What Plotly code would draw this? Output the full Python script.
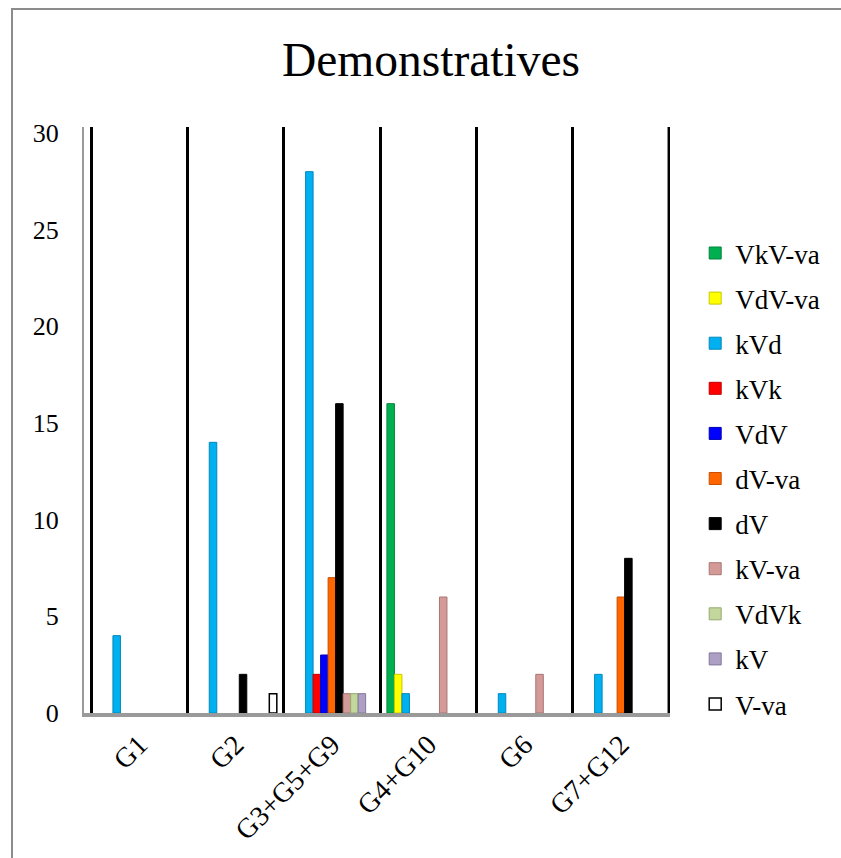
import plotly.graph_objects as go

# Categories (groups) along the x axis
categories = ["G1", "G2", "G3+G5+G9", "G4+G10", "G6", "G7+G12"]

# Counts per series (None = no bar)
vkv_va = [None, None, None, 16, None, None]
vdv_va = [None, None, None, 2, None, None]
kvd = [4, 14, 28, 1, 1, 2]
kvk = [None, None, 2, None, None, None]
vdv = [None, None, 3, None, None, None]
dv_va = [None, None, 7, None, None, 6]
dv = [None, 2, 16, None, None, 8]
kv_va = [None, None, 1, 6, 2, None]
vdvk = [None, None, 1, None, None, None]
kv = [None, None, 1, None, None, None]
v_va = [None, 1, None, None, None, None]

y_ticks = [0, 5, 10, 15, 20, 25, 30]

series = [
    ("VkV-va", vkv_va, "#00B050", "#00853C"),
    ("VdV-va", vdv_va, "#FFFF00", "#C8C800"),
    ("kVd", kvd, "#00B0F0", "#0088BC"),
    ("kVk", kvk, "#FF0000", "#C00000"),
    ("VdV", vdv, "#0000FF", "#0000B8"),
    ("dV-va", dv_va, "#FF6600", "#C84F00"),
    ("dV", dv, "#000000", "#000000"),
    ("kV-va", kv_va, "#D49A98", "#A87472"),
    ("VdVk", vdvk, "#C3D69B", "#97AA70"),
    ("kV", kv, "#ADA0C4", "#83779A"),
    ("V-va", v_va, "#FFFFFF", "#000000"),
]

SERIF = "Liberation Serif, Times New Roman, serif"

fig = go.Figure()
for name, vals, fill, edge in series:
    fig.add_trace(go.Bar(
        x=categories,
        y=vals,
        name=name,
        legendgroup=name,
        marker=dict(color=fill, line=dict(color=edge, width=1.5 if name == "V-va" else 1)),
    ))

fig.update_layout(
    barmode="group",
    bargap=0.143,
    bargroupgap=0,
    width=841,
    height=858,
    margin=dict(l=84, r=171, t=127, b=145),
    paper_bgcolor="white",
    plot_bgcolor="white",
    font=dict(family=SERIF, color="black"),
    title=dict(
        text="Demonstratives",
        font=dict(family=SERIF, size=47.5, color="black"),
        x=431 / 841, xanchor="center", xref="container",
        y=1 - 59 / 858, yanchor="middle", yref="container",
    ),
    showlegend=True,
    legend=dict(
        x=1.043, xanchor="left",
        y=0.826, yanchor="top",
        font=dict(family=SERIF, size=27, color="black"),
        tracegroupgap=7,
        bgcolor="rgba(0,0,0,0)",
    ),
    xaxis=dict(
        type="category",
        range=[-0.573, 5.51],
        tickson="boundaries",
        showgrid=True,
        gridcolor="black",
        gridwidth=3,
        ticks="",
        tickangle=-45,
        tickfont=dict(family=SERIF, size=28, color="black"),
        ticklabelstandoff=0,
        showline=True,
        linecolor="#9A9A9A",
        linewidth=4,
        zeroline=False,
    ),
    yaxis=dict(
        range=[0, 30.31],
        tickvals=y_ticks,
        showgrid=False,
        zeroline=False,
        showline=True,
        linecolor="#9A9A9A",
        linewidth=2,
        ticks="",
        tickfont=dict(family=SERIF, size=26, color="black"),
        ticklabelstandoff=18,
    ),
    shapes=[
        # outer chart frame
        dict(
            type="rect", xref="paper", yref="paper",
            x0=(12 - 84) / 586, x1=1.4,
            y0=-0.3, y1=1 + (127 - 9) / 586,
            line=dict(color="#8C8C8C", width=2),
            fillcolor="rgba(0,0,0,0)",
            layer="below",
        ),
        # closing divider after the last category
        dict(
            type="line", xref="x", yref="paper",
            x0=len(categories) - 0.5, x1=len(categories) - 0.5,
            y0=0, y1=1,
            line=dict(color="black", width=3),
            layer="below",
        ),
    ],
)

fig.write_html("out.html")
